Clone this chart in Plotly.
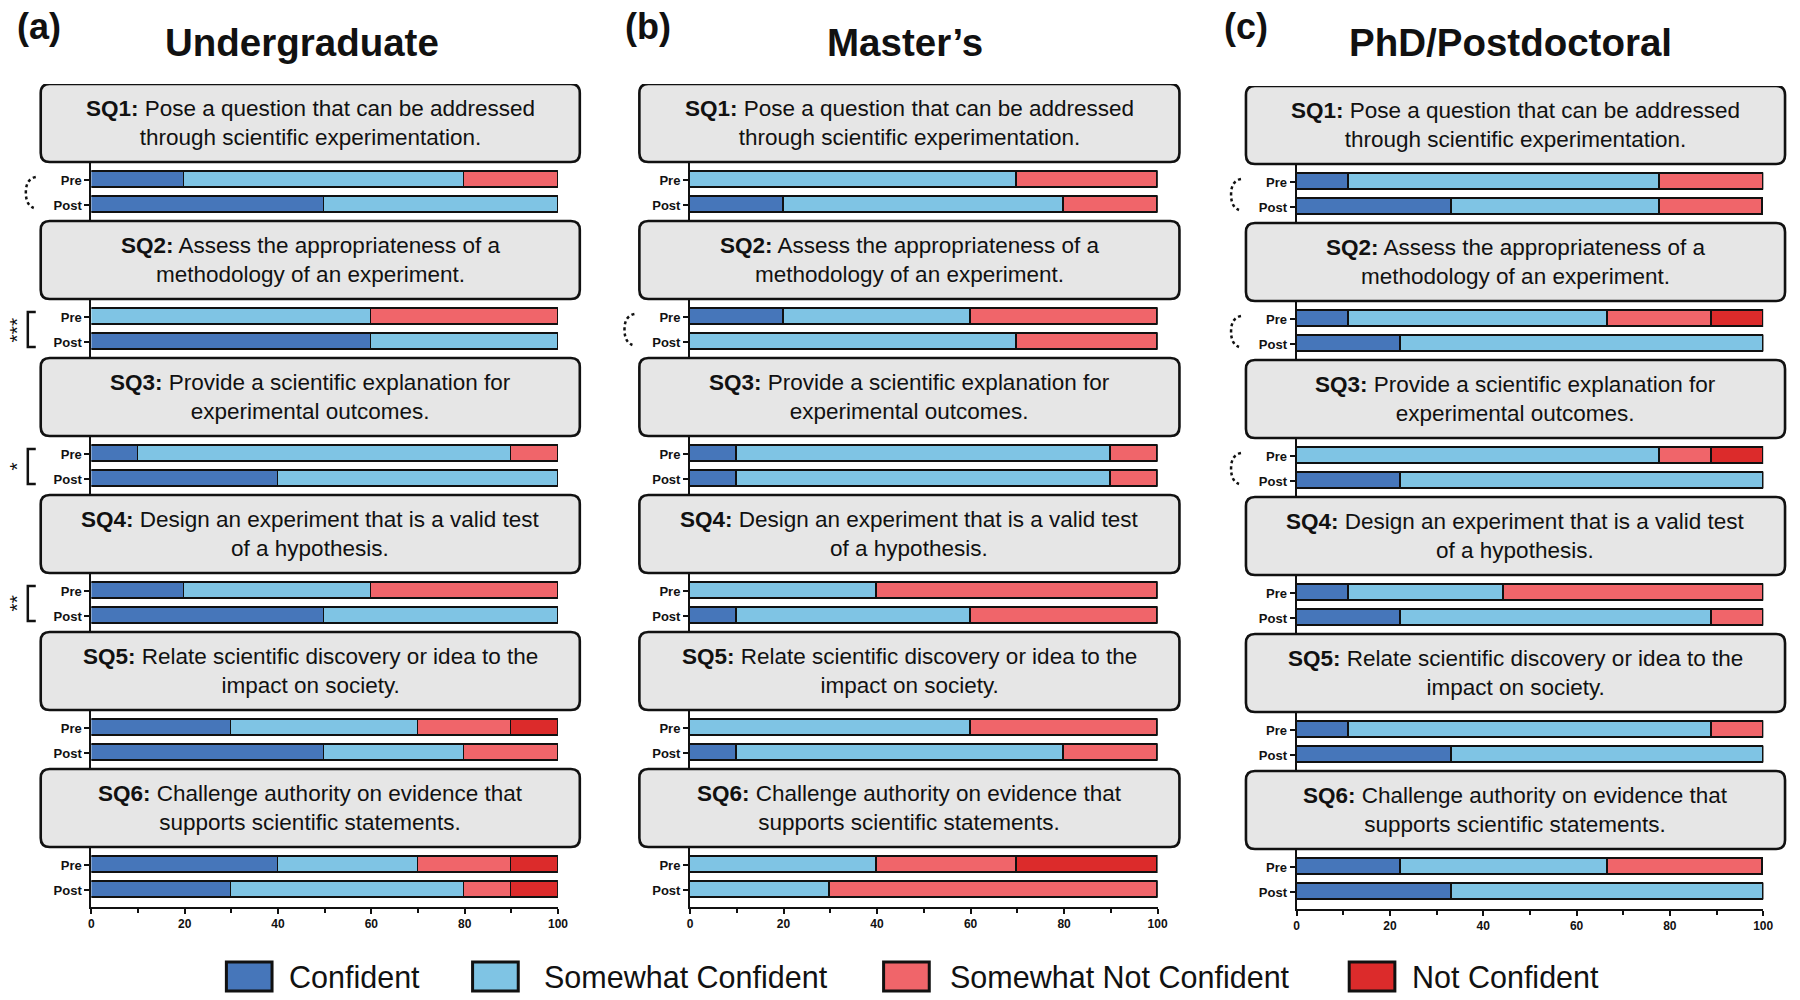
import plotly.graph_objects as go

# ---------------- data ----------------
panels = ["Undergraduate", "Master\u2019s", "PhD/Postdoctoral"]
panel_tags = ["(a)", "(b)", "(c)"]
levels = ["Confident", "Somewhat Confident", "Somewhat Not Confident", "Not Confident"]
level_colors = ["#4676BA", "#7FC4E4", "#F0656A", "#DC2B2B"]
timepoints = ["Pre", "Post"]
question_ids = ["SQ1", "SQ2", "SQ3", "SQ4", "SQ5", "SQ6"]
question_text = [
    "Pose a question that can be addressed<br>through scientific experimentation.",
    "Assess the appropriateness of a<br>methodology of an experiment.",
    "Provide a scientific explanation for<br>experimental outcomes.",
    "Design an experiment that is a valid test<br>of a hypothesis.",
    "Relate scientific discovery or idea to the<br>impact on society.",
    "Challenge authority on evidence that<br>supports scientific statements.",
]

# values ordered SQ1 Pre, SQ1 Post, SQ2 Pre, SQ2 Post, ... (percent)
ug_confident = [20, 50, 0, 60, 10, 40, 20, 50, 30, 50, 40, 30]
ug_somewhat = [60, 50, 60, 40, 80, 60, 40, 50, 40, 30, 30, 50]
ug_somewhat_not = [20, 0, 40, 0, 10, 0, 40, 0, 20, 20, 20, 10]
ug_not = [0, 0, 0, 0, 0, 0, 0, 0, 10, 0, 10, 10]

ms_confident = [0, 20, 20, 0, 10, 10, 0, 10, 0, 10, 0, 0]
ms_somewhat = [70, 60, 40, 70, 80, 80, 40, 50, 60, 70, 40, 30]
ms_somewhat_not = [30, 20, 40, 30, 10, 10, 60, 40, 40, 20, 30, 70]
ms_not = [0, 0, 0, 0, 0, 0, 0, 0, 0, 0, 30, 0]

phd_confident = [11.1, 33.3, 11.1, 22.2, 0, 22.2, 11.1, 22.2, 11.1, 33.3, 22.2, 33.3]
phd_somewhat = [66.7, 44.4, 55.6, 77.8, 77.8, 77.8, 33.3, 66.7, 77.8, 66.7, 44.4, 66.7]
phd_somewhat_not = [22.2, 22.2, 22.2, 0, 11.1, 0, 55.6, 11.1, 11.1, 0, 33.3, 0]
phd_not = [0, 0, 11.1, 0, 11.1, 0, 0, 0, 0, 0, 0, 0]

# significance marks per question ("trend" = dotted bracket)
ug_sig = ["trend", "***", "*", "**", "", ""]
ms_sig = ["", "trend", "", "", "", ""]
phd_sig = ["trend", "trend", "trend", "", "", ""]

x_ticks = [0, 20, 40, 60, 80, 100]

panel_data = [
    [ug_confident, ug_somewhat, ug_somewhat_not, ug_not],
    [ms_confident, ms_somewhat, ms_somewhat_not, ms_not],
    [phd_confident, phd_somewhat, phd_somewhat_not, phd_not],
]
panel_sig = [ug_sig, ms_sig, phd_sig]

# ---------------- layout constants (pixels) ----------------
W, H = 1800, 1000
FONT = "Liberation Sans, Arial, Helvetica, sans-serif"
x0_px = [89, 692, 1303]      # pixel of x=0 per panel
x100_px = [559, 1163, 1773]  # pixel of x=100 per panel
y_top_px = [84, 84, 86]      # top of the first question box
y_bot_px = [907, 907, 909]   # x-axis line
PERIOD = 137
BOX_H = 78
PRE_OFF, POST_OFF = 96, 121
BAR_W = 16


def px(xp):
    return xp / W


def py(yp):
    return 1 - yp / H


fig = go.Figure()
shapes = []
annotations = []

for p in range(3):
    suffix = "" if p == 0 else str(p + 1)
    xa, ya = "x" + suffix, "y" + suffix
    positions = []
    ticktext = []
    for i in range(len(question_ids)):
        for t, off in zip(timepoints, [PRE_OFF, POST_OFF]):
            positions.append(PERIOD * i + off)
            ticktext.append(t)
    for lv, (name, col) in enumerate(zip(levels, level_colors)):
        fig.add_trace(go.Bar(
            x=panel_data[p][lv], y=positions, orientation="h", width=BAR_W,
            name=name, marker=dict(color=col, line=dict(color="#111111", width=1.8)),
            xaxis=xa, yaxis=ya, showlegend=False,
        ))
    span = y_bot_px[p] - y_top_px[p]
    fig.update_layout(**{
        ("xaxis" + suffix): dict(
            domain=[px(x0_px[p]), px(x100_px[p])], anchor=ya, range=[0, 100],
            tickvals=x_ticks, ticks="outside", ticklen=5, tickwidth=2, tickcolor="#111",
            showline=True, linewidth=2, linecolor="#111", showgrid=False, zeroline=False,
            tickfont=dict(family=FONT, size=12, color="#111", weight="bold"),
            minor=dict(dtick=10, ticks="outside", ticklen=4, tickwidth=2, tickcolor="#111", showgrid=False),
            fixedrange=True,
        ),
        ("yaxis" + suffix): dict(
            domain=[py(y_bot_px[p]), py(y_top_px[p])], anchor=xa, range=[span, 0],
            tickvals=positions, ticktext=ticktext, ticks="outside", ticklen=5, tickwidth=2,
            tickcolor="#111", showline=True, linewidth=2, linecolor="#111", showgrid=False,
            zeroline=False, tickfont=dict(family=FONT, size=13, color="#111", weight="bold"),
            fixedrange=True,
        ),
    })

    # question boxes
    bx0, bx1 = px(x0_px[p] - 51), px(x100_px[p] + 22)
    rx = 9 / W
    ry = 9
    for i, (qid, qtxt) in enumerate(zip(question_ids, question_text)):
        t0 = PERIOD * i
        t1 = t0 + BOX_H
        path = (f"M {bx0+rx},{t0} L {bx1-rx},{t0} Q {bx1},{t0} {bx1},{t0+ry} "
                f"L {bx1},{t1-ry} Q {bx1},{t1} {bx1-rx},{t1} L {bx0+rx},{t1} "
                f"Q {bx0},{t1} {bx0},{t1-ry} L {bx0},{t0+ry} Q {bx0},{t0} {bx0+rx},{t0} Z")
        shapes.append(dict(type="path", path=path, xref="paper", yref=ya, layer="above",
                           fillcolor="#E6E6E6", line=dict(color="#111", width=2.6)))
        annotations.append(dict(
            x=(bx0 + bx1) / 2, y=(t0 + t1) / 2, xref="paper", yref=ya, showarrow=False,
            text=f"<b>{qid}:</b> {qtxt}", align="center", xanchor="center", yanchor="middle",
            font=dict(family=FONT, size=22.5, color="#111"),
        ))
        # significance marks
        sig = panel_sig[p][i]
        pre_y = PERIOD * i + PRE_OFF
        post_y = PERIOD * i + POST_OFF
        mid = (pre_y + post_y) / 2
        if sig == "trend":
            xa_ = px(x0_px[p] - 56)
            xb_ = px(x0_px[p] - 66)
            xc_ = px(x0_px[p] - 58)
            path = (f"M {xa_},{pre_y-3} Q {xb_},{pre_y-1} {xb_},{mid} "
                    f"Q {xb_},{post_y} {xc_},{post_y+3}")
            shapes.append(dict(type="path", path=path, xref="paper", yref=ya,
                               line=dict(color="#111", width=2.5, dash="dot")))
        elif sig:
            xr = px(x0_px[p] - 56)
            xl = px(x0_px[p] - 64)
            path = (f"M {xr},{pre_y-5} L {xl},{pre_y-5} L {xl},{post_y+5} L {xr},{post_y+5}")
            shapes.append(dict(type="path", path=path, xref="paper", yref=ya,
                               line=dict(color="#111", width=2.5)))
            annotations.append(dict(
                x=px(x0_px[p] - 75), y=mid, xref="paper", yref=ya, showarrow=False,
                text=sig, textangle=-90, xanchor="center", yanchor="middle",
                font=dict(family=FONT, size=21, color="#111"),
            ))

# panel titles and tags
title_x = [301, 909, 1518]
tag_x = [36, 650, 1252]
for p in range(3):
    annotations.append(dict(x=px(title_x[p]), y=py(42), xref="paper", yref="paper",
                            text=f"<b>{panels[p]}</b>", showarrow=False,
                            xanchor="center", yanchor="middle",
                            font=dict(family=FONT, size=38.5, color="#111")))
    annotations.append(dict(x=px(tag_x[p]), y=py(26), xref="paper", yref="paper",
                            text=f"<b>{panel_tags[p]}</b>", showarrow=False,
                            xanchor="center", yanchor="middle",
                            font=dict(family=FONT, size=36, color="#111")))

# legend (drawn manually to match large swatches)
leg_sq_x = [225, 473, 887, 1356]
leg_txt_x = [286, 543, 952, 1417]
for k, (name, col) in enumerate(zip(levels, level_colors)):
    shapes.append(dict(type="rect", xref="paper", yref="paper",
                       x0=px(leg_sq_x[k]), x1=px(leg_sq_x[k] + 46),
                       y0=py(991), y1=py(962), fillcolor=col,
                       line=dict(color="#111", width=3)))
    annotations.append(dict(x=px(leg_txt_x[k]), y=py(977), xref="paper", yref="paper",
                            text=name, showarrow=False, xanchor="left", yanchor="middle",
                            font=dict(family=FONT, size=30.5, color="#111")))

fig.update_layout(
    width=W, height=H, margin=dict(l=0, r=0, t=0, b=0),
    barmode="stack", bargap=0, showlegend=False,
    paper_bgcolor="white", plot_bgcolor="white",
    shapes=shapes, annotations=annotations,
    font=dict(family=FONT, color="#111"),
)

fig.write_html(
    "out.html",
    config={"displayModeBar": False},
    post_script="document.body.style.margin='0px';document.body.style.overflow='hidden';",
)
